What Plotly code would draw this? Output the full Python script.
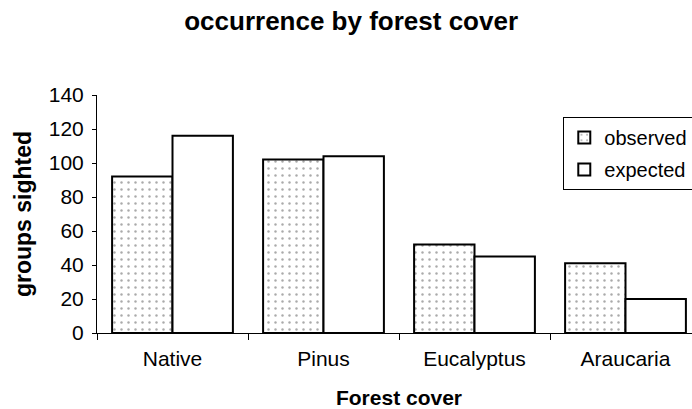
import plotly.graph_objects as go

# forest cover types and counts of groups sighted
covers = ["Native", "Pinus", "Eucalyptus", "Araucaria"]
observed = [92, 102, 52, 41]
expected = [116, 104, 45, 20]

FONT = "Liberation Sans, Arial, sans-serif"

fig = go.Figure()
fig.add_trace(go.Bar(
    x=covers, y=observed, name="observed", legendgroup="o",
    marker=dict(color="white", line=dict(color="black", width=2),
                pattern=dict(shape=".", fgcolor="#555555", bgcolor="white",
                             size=7, solidity=0.1)),
))
fig.add_trace(go.Bar(
    x=covers, y=expected, name="expected", legendgroup="e",
    marker=dict(color="white", line=dict(color="black", width=2)),
))

# the original chart is wider than the window and gets cropped on the right
fig.update_layout(
    width=730, height=409,
    margin=dict(l=97, r=29, t=95, b=76),
    paper_bgcolor="white", plot_bgcolor="white",
    font=dict(family=FONT, color="black", size=21),
    barmode="group", bargap=0.2, bargroupgap=0,
    title=dict(text="<b>occurrence by forest cover</b>", x=0.481, xanchor="center",
               y=0.95, yanchor="middle", font=dict(size=26)),
    legend=dict(x=0.772, xanchor="left", y=0.9076, yanchor="top",
                bordercolor="black", borderwidth=1, bgcolor="white",
                font=dict(size=20), traceorder="grouped", tracegroupgap=3,
                itemwidth=30),
)
fig.update_xaxes(
    range=[-0.5, 3.5], showline=True, linecolor="black", linewidth=1,
    ticks="outside", tickson="boundaries", ticklen=6, tickcolor="black",
    tickfont=dict(size=21), showgrid=False, ticklabelstandoff=7, automargin=False,
    title=dict(text="<b>Forest cover</b>", font=dict(size=21), standoff=24),
)
fig.update_yaxes(
    range=[0, 140], dtick=20, showline=True, linecolor="black", linewidth=1,
    ticks="outside", ticklen=4, tickcolor="black", showgrid=False, zeroline=False,
    tickfont=dict(size=21), ticklabelstandoff=4, automargin=False,
    title=dict(text="<b>groups sighted</b>", font=dict(size=23), standoff=10),
)

# page body has a default margin and would scroll; pin the chart to the corner
fig.write_html("out.html", config={"displayModeBar": False},
               post_script="document.body.style.margin='0';document.body.style.overflow='hidden';")
